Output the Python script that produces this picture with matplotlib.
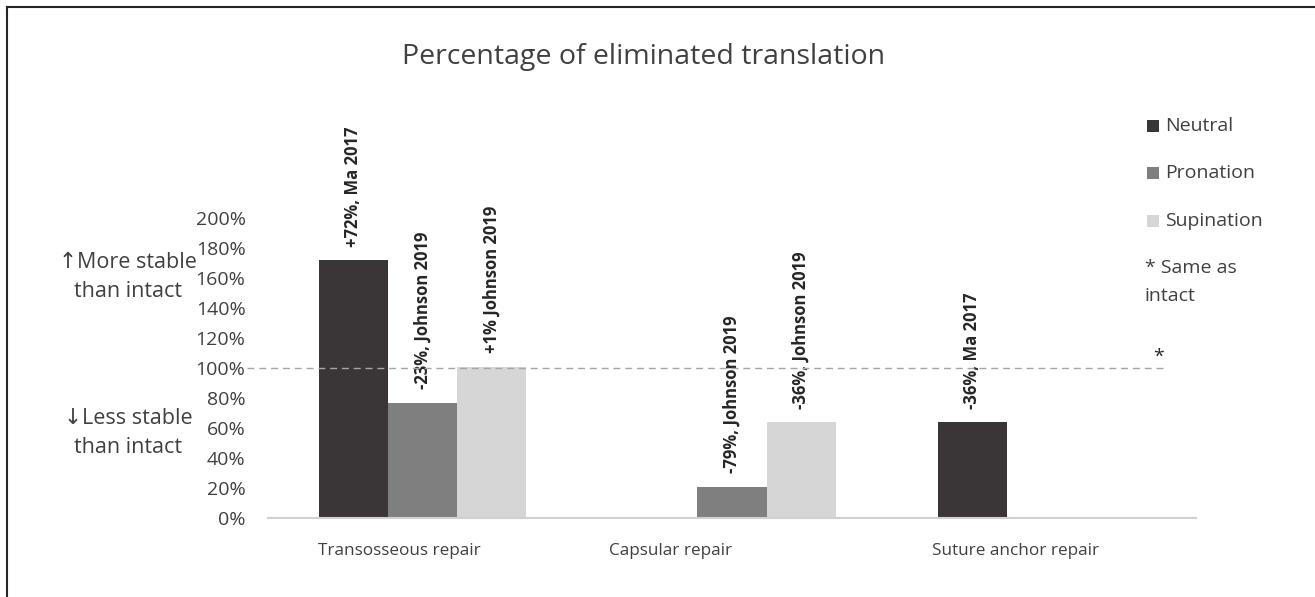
import matplotlib
matplotlib.use("Agg")
import matplotlib.pyplot as plt
from matplotlib.lines import Line2D
from matplotlib.patches import Rectangle
import numpy as np

plt.rcParams['font.family'] = ['Open Sans', 'DejaVu Sans']

categories = ["Transosseous repair", "Capsular repair", "Suture anchor repair"]
series = ["Neutral", "Pronation", "Supination"]
neutral = [172, np.nan, 64]
pronation = [77, 21, np.nan]
supination = [101, 64, np.nan]
labels_neutral = ["+72%, Ma 2017", None, "-36%, Ma 2017"]
labels_pronation = ["-23%, Johnson 2019", "-79%, Johnson 2019", None]
labels_supination = ["+1% Johnson 2019", "-36%, Johnson 2019", None]
yticks = [0, 20, 40, 60, 80, 100, 120, 140, 160, 180, 200]
intact_level = 100

colors = ["#3a3536", "#7f7f7f", "#d6d6d6"]
W, H = 1315, 597
fig = plt.figure(figsize=(W / 100, H / 100), dpi=100)
ax = fig.add_axes([267.75 / W, 1 - 518 / H, (1196.25 - 267.75) / W, 300 / H])

x = np.arange(len(categories))
bw = 0.223
data = [neutral, pronation, supination]
labs = [labels_neutral, labels_pronation, labels_supination]
for i, (vals, lab, c) in enumerate(zip(data, labs, colors)):
    pos = x + (i - 1) * bw
    ax.bar(pos, vals, width=bw, color=c, zorder=2)
    for p, v, t in zip(pos, vals, lab):
        if t is None or np.isnan(v):
            continue
        ax.annotate(t, (p, v), xytext=(0, 9.5), textcoords="offset points",
                    rotation=90, ha="center", va="bottom", fontsize=12,
                    fontweight="bold", color="#262626", annotation_clip=False, zorder=3)

ax.set_xlim(-0.5, 2.5)
ax.set_ylim(0, 200)
ax.set_yticks(yticks)
ax.set_yticklabels([f"{t}%" for t in yticks])
label_offsets = [-0.075, -0.2, -0.085]
ax.set_xticks(x + np.array(label_offsets))
ax.set_xticklabels(categories)
ax.tick_params(axis="both", length=0, labelcolor="#404040")
ax.tick_params(axis="y", pad=16, labelsize=14)
ax.tick_params(axis="x", pad=18, labelsize=12.3)
for s in ["top", "right", "left"]:
    ax.spines[s].set_visible(False)
ax.spines["bottom"].set_color("#d0d0d0")
ax.spines["bottom"].set_linewidth(1.5)

# dashed intact line (extends slightly left of the plot area)
ax.plot([-0.567, 2.393], [intact_level, intact_level], ls=(0, (5, 3.5)), color="#a6a6a6",
        lw=1.0, clip_on=False, zorder=3)
ax.text(2.377, intact_level + 1.5, "*", ha="center", va="bottom", fontsize=14,
        color="#262626", clip_on=False)

fig.text(644 / W, 1 - 57 / H, "Percentage of eliminated translation", ha="center",
         va="center", fontsize=20.5, color="#404040")

fig.text(128 / W, 1 - 277 / H, "\u2191More stable\nthan intact", ha="center", va="center",
         fontsize=15.5, color="#404040", linespacing=1.45)
fig.text(128 / W, 1 - 433 / H, "\u2193Less stable\nthan intact", ha="center", va="center",
         fontsize=15.5, color="#404040", linespacing=1.45)

# legend
leg_y = [126, 173, 221]
for name, c, yy in zip(series, colors, leg_y):
    fig.add_artist(Rectangle((1147 / W, 1 - (yy + 6) / H), 12 / W, 12 / H,
                             transform=fig.transFigure, facecolor=c, edgecolor="none"))
    fig.text(1165 / W, 1 - yy / H, name, ha="left", va="center", fontsize=14,
             color="#404040")
fig.text(1145 / W, 1 - 282 / H, "* Same as\nintact", ha="left", va="center",
         fontsize=14, color="#404040", linespacing=1.75)

# partial frame (top and left)
fig.add_artist(Line2D([7 / W, 7 / W], [0, 1 - 7 / H], color="#262626", lw=1.5))
fig.add_artist(Line2D([7 / W, 1], [1 - 7 / H, 1 - 7 / H], color="#262626", lw=1.5))

fig.savefig("out.png", dpi=100)
